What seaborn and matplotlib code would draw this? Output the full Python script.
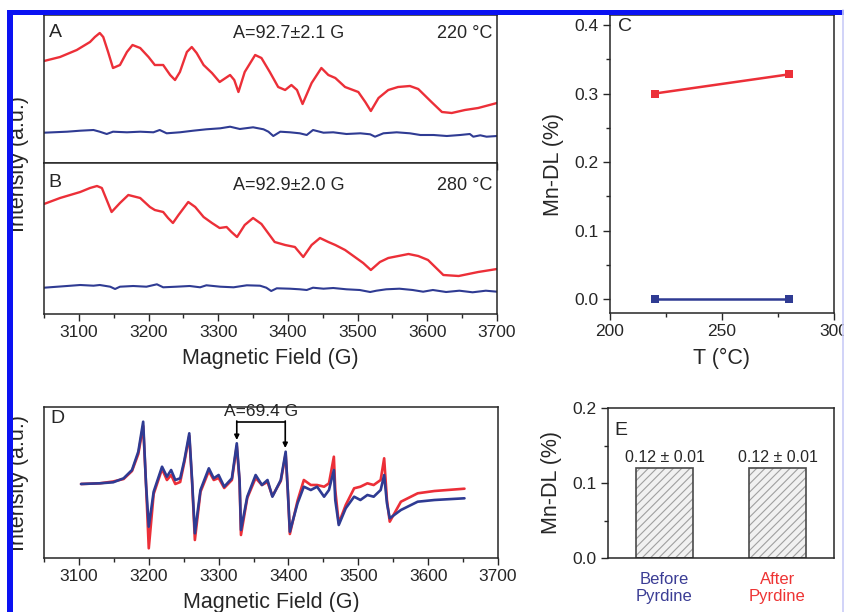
import matplotlib
matplotlib.use("Agg")
import matplotlib.pyplot as plt
import numpy as np
import pandas as pd
import seaborn as sns
from matplotlib.lines import Line2D
from matplotlib.patches import Rectangle
from matplotlib.ticker import MultipleLocator, NullLocator

sns.set_theme(style="ticks")
plt.rcParams["font.family"] = ["Liberation Sans", "DejaVu Sans"]
INK = "#262626"
RED = "#ec2f38"
BLUE = "#2f3b93"
plt.rcParams.update({
    "text.color": INK,
    "axes.labelcolor": INK,
    "axes.edgecolor": INK,
    "xtick.color": INK,
    "ytick.color": INK,
    "hatch.linewidth": 0.8,
})

# ---------------- Panel A: EPR at 220 °C ----------------
a_red_field = [3050, 3073, 3097, 3116, 3123, 3130, 3135, 3142, 3149, 3159,
               3169, 3177, 3188, 3200, 3209, 3221, 3231, 3238, 3245, 3255,
               3262, 3269, 3279, 3291, 3302, 3317, 3323, 3329, 3338, 3353,
               3362, 3374, 3386, 3396, 3405, 3413, 3421, 3434, 3448, 3458,
               3468, 3482, 3501, 3511, 3519, 3530, 3544, 3558, 3575, 3587,
               3606, 3621, 3635, 3654, 3673, 3700]
a_red_int = [102, 106, 113, 121, 126, 130, 126, 111, 95, 98,
             111, 118, 115, 106, 98, 98, 88, 83, 91, 111,
             116, 110, 98, 90, 81, 88, 83, 71, 91, 108,
             105, 91, 76, 73, 78, 73, 59, 80, 95, 88,
             85, 76, 71, 61, 52, 65, 73, 76, 77, 74,
             61, 51, 50, 53, 55, 60]
a_blue_field = [3050, 3083, 3102, 3121, 3130, 3140, 3149, 3169, 3188, 3207,
                3216, 3226, 3245, 3264, 3283, 3303, 3317, 3331, 3350, 3365,
                3372, 3379, 3389, 3403, 3417, 3427, 3436, 3451, 3465, 3484,
                3504, 3518, 3525, 3537, 3556, 3575, 3590, 3609, 3628, 3647,
                3661, 3666, 3676, 3685, 3700]
a_blue_int = [30.3, 31.3, 32.3, 33, 31.3, 29, 31.3, 30.7, 31.3, 30.7,
              33, 29.7, 30.7, 32.3, 33.7, 34.7, 36.3, 34, 35.7, 33.7,
              31.3, 27, 31.3, 30.7, 29.7, 28, 33, 30.3, 30.7, 29,
              29.7, 28.7, 26.3, 29.7, 30.7, 29.7, 28, 28, 27, 28,
              29, 26.3, 27.7, 26.3, 27]

# ---------------- Panel B: EPR at 280 °C ----------------
b_red_field = [3050, 3073, 3102, 3116, 3126, 3133, 3140, 3147, 3159, 3171,
               3188, 3202, 3209, 3221, 3228, 3235, 3243, 3257, 3267, 3279,
               3291, 3302, 3312, 3319, 3327, 3338, 3350, 3362, 3381, 3396,
               3410, 3422, 3434, 3446, 3458, 3468, 3482, 3496, 3508, 3519,
               3532, 3544, 3573, 3587, 3601, 3623, 3645, 3673, 3700]
b_red_int = [110, 116, 122, 126, 128, 126, 114, 102, 111, 119,
             116, 107, 104, 102, 96, 91, 99, 112, 107, 97,
             91, 86, 87, 82, 77, 89, 96, 90, 72, 69,
             67, 57, 69, 76, 72, 69, 64, 57, 51, 44,
             52, 56, 60, 58, 54, 39, 38, 42, 45]
b_blue_field = [3050, 3083, 3102, 3121, 3130, 3145, 3152, 3159, 3178, 3197,
                3212, 3221, 3240, 3259, 3274, 3283, 3303, 3322, 3341, 3360,
                3369, 3376, 3384, 3403, 3417, 3427, 3436, 3451, 3465, 3484,
                3503, 3518, 3527, 3541, 3560, 3579, 3594, 3608, 3627, 3646,
                3665, 3684, 3700]
b_blue_int = [26.3, 28, 29, 28.3, 29, 27.3, 25, 27.3, 28, 27.3,
              29.7, 26.7, 27.3, 28, 26.7, 28.7, 27.3, 26.7, 28.7, 28.3,
              26.3, 23, 25.7, 25.3, 24.7, 24, 26.3, 25.3, 26, 24.7,
              24, 22, 23.3, 24.7, 25.3, 24, 22.3, 24, 22, 23.3,
              21.7, 23.3, 22.3]

# ---------------- Panel C: Mn-DL vs temperature ----------------
c_temp = [220, 280]
c_red = [0.300, 0.328]
c_blue = [0.0, 0.0]

# ---------------- Panel D: before / after pyridine ----------------
d_field = [3103, 3130, 3149, 3164, 3176, 3185, 3192, 3196, 3200, 3207,
           3219, 3226, 3232, 3238, 3245, 3251, 3258, 3262, 3266, 3274,
           3286, 3293, 3300, 3308, 3319, 3326, 3330, 3332, 3341, 3353,
           3362, 3370, 3377, 3389, 3396, 3399, 3402, 3413, 3422, 3432,
           3441, 3451, 3458, 3465, 3467, 3472, 3482, 3494, 3503, 3513,
           3522, 3532, 3537, 3541, 3545, 3561, 3585, 3609, 3652]
d_blue = [74, 74.7, 75.7, 79.7, 88, 106.3, 136.3, 74.7, 31.3, 66.3,
          91.3, 81.3, 88, 78, 79.7, 98, 124.7, 78, 24.7, 68,
          89.7, 79.7, 83, 71.3, 79.7, 114.7, 78, 28, 61.3, 83,
          73, 78, 61.3, 78, 106.3, 68, 26.3, 54.7, 71.3, 68,
          71.3, 61.3, 68, 88, 58, 33, 49.7, 61.3, 58, 63,
          61.3, 68, 83, 54.7, 39.7, 48, 56.3, 58, 59.7]
d_red = [74, 74.7, 76.5, 79, 87, 104, 132, 74.7, 9.7, 64,
         89, 78, 83, 74, 76, 96, 122, 76, 18, 66,
         87, 78, 80, 70, 78, 112, 76, 23, 60, 80,
         73, 76, 62, 77, 104, 68, 24, 57.3, 78, 73,
         73, 71.3, 74.7, 101.3, 68, 34.7, 53, 69.7, 71.3, 74.7,
         73, 78, 99.7, 58, 36.3, 56.3, 64.7, 67, 69.3]
d_split_start = 3326.0
d_split = 69.4

# ---------------- Panel E: Mn-DL bars ----------------
e_labels = ["Before\nPyrdine", "After\nPyrdine"]
e_values = [0.12, 0.12]
e_errors = [0.01, 0.01]
e_label_colors = ["#3b3d95", "#ee3434"]

W, H = 845, 612
fig = plt.figure(figsize=(W / 100, H / 100), dpi=100)
fig.patch.set_facecolor("white")


def px_axes(x0, y0, x1, y1):
    return fig.add_axes([x0 / W, 1 - y1 / H, (x1 - x0) / W, (y1 - y0) / H])


def style_box(ax):
    for s in ax.spines.values():
        s.set_visible(True)
        s.set_color(INK)
        s.set_linewidth(1.1)
    ax.set_facecolor("white")
    ax.tick_params(which="major", length=5, width=1.0, labelsize=12.5, pad=3)
    ax.tick_params(which="minor", length=3, width=1.0)


def spectrum_axes(ax, ymax, show_labels):
    style_box(ax)
    ax.set_xlim(3050, 3700)
    ax.set_ylim(0, ymax)
    ax.xaxis.set_major_locator(MultipleLocator(100))
    ax.xaxis.set_minor_locator(MultipleLocator(50))
    ax.yaxis.set_major_locator(NullLocator())
    ax.yaxis.set_minor_locator(NullLocator())
    ax.tick_params(axis="x", which="both", direction="out",
                   labelbottom=show_labels)
    ax.set_ylabel("")
    ax.set_xlabel("")


# Panel A
axA = px_axes(44, 15, 497, 163)
sns.lineplot(x=a_red_field, y=a_red_int, ax=axA, color=RED, lw=1.7, estimator=None)
sns.lineplot(x=a_blue_field, y=a_blue_int, ax=axA, color=BLUE, lw=1.5, estimator=None)
spectrum_axes(axA, 148, False)
axA.text(0.01, 0.885, "A", transform=axA.transAxes, fontsize=14, va="center")
axA.text(0.54, 0.878, "A=92.7\u00b12.1 G", transform=axA.transAxes,
         fontsize=13, ha="center", va="center")
axA.text(0.989, 0.878, "220 \u00b0C", transform=axA.transAxes,
         fontsize=13, ha="right", va="center")

# Panel B
axB = px_axes(44, 163, 497, 314)
sns.lineplot(x=b_red_field, y=b_red_int, ax=axB, color=RED, lw=1.7, estimator=None)
sns.lineplot(x=b_blue_field, y=b_blue_int, ax=axB, color=BLUE, lw=1.5, estimator=None)
spectrum_axes(axB, 151, True)
axB.set_xlabel("Magnetic Field (G)", fontsize=15.5, labelpad=6)
axB.text(0.01, 0.874, "B", transform=axB.transAxes, fontsize=14, va="center")
axB.text(0.54, 0.854, "A=92.9\u00b12.0 G", transform=axB.transAxes,
         fontsize=13, ha="center", va="center")
axB.text(0.989, 0.854, "280 \u00b0C", transform=axB.transAxes,
         fontsize=13, ha="right", va="center")

fig.text(19 / W, 1 - 164 / H, "Intensity (a.u.)", rotation=90,
         ha="center", va="center", fontsize=15.5, color=INK)

# Panel C
axC = px_axes(610, 15, 834, 313)
dfC = pd.DataFrame({
    "T": c_temp + c_temp,
    "MnDL": c_red + c_blue,
    "series": ["red"] * len(c_temp) + ["blue"] * len(c_temp),
})
sns.lineplot(data=dfC, x="T", y="MnDL", hue="series",
             palette={"red": RED, "blue": BLUE}, marker="s", markersize=6,
             markeredgewidth=0, lw=1.8, legend=False, ax=axC, estimator=None)
style_box(axC)
axC.set_xlim(200, 300)
axC.set_ylim(-0.0204, 0.4146)
axC.xaxis.set_major_locator(MultipleLocator(50))
axC.xaxis.set_minor_locator(MultipleLocator(25))
axC.yaxis.set_major_locator(MultipleLocator(0.1))
axC.yaxis.set_minor_locator(MultipleLocator(0.05))
axC.tick_params(which="both", direction="out")
axC.set_xlabel("T (\u00b0C)", fontsize=15.5, labelpad=6)
axC.set_ylabel("Mn-DL (%)", fontsize=15.5, labelpad=8)
axC.text(0.036, 0.96, "C", transform=axC.transAxes, fontsize=14, va="center")

# Panel D
axD = px_axes(44, 407, 498, 558)
sns.lineplot(x=d_field, y=d_red, ax=axD, color=RED, lw=1.9, estimator=None)
sns.lineplot(x=d_field, y=d_blue, ax=axD, color=BLUE, lw=1.9, estimator=None)
spectrum_axes(axD, 151, True)
axD.set_xlabel("Magnetic Field (G)", fontsize=15.5, labelpad=6)
axD.text(0.013, 0.927, "D", transform=axD.transAxes, fontsize=14, va="center")
d_split_end = d_split_start + d_split
axD.plot([d_split_start, d_split_end], [136.5, 136.5], color="black", lw=1.2)
axD.annotate("", xy=(d_split_start, 118), xytext=(d_split_start, 137),
             arrowprops=dict(arrowstyle="-|>", color="black", lw=1.2,
                             mutation_scale=7, shrinkA=0, shrinkB=0))
axD.annotate("", xy=(d_split_end, 110), xytext=(d_split_end, 137),
             arrowprops=dict(arrowstyle="-|>", color="black", lw=1.2,
                             mutation_scale=7, shrinkA=0, shrinkB=0))
axD.text((d_split_start + d_split_end) / 2, 139, f"A={d_split} G",
         fontsize=12.5, ha="center", va="bottom")
fig.text(19 / W, 1 - 483 / H, "Intensity (a.u.)", rotation=90,
         ha="center", va="center", fontsize=15.5, color=INK)

# Panel E
axE = px_axes(608, 408, 834, 558)
dfE = pd.DataFrame({"sample": e_labels, "value": e_values})
sns.barplot(data=dfE, x="sample", y="value", color="#f1f1f1", width=0.5,
            saturation=1, edgecolor="#a0a0a0", linewidth=0, hatch="////",
            ax=axE)
sns.barplot(data=dfE, x="sample", y="value", color="#4a4a4a", width=0.5,
            fill=False, linewidth=1.2, ax=axE)
axE.bar_label(axE.containers[0],
              labels=[f"{v:.2f} \u00b1 {e:.2f}" for v, e in zip(e_values, e_errors)],
              padding=2, fontsize=11.5, color=INK)
style_box(axE)
axE.set_xlim(-0.5, 1.5)
axE.set_ylim(0, 0.2)
axE.yaxis.set_major_locator(MultipleLocator(0.1))
axE.yaxis.set_minor_locator(MultipleLocator(0.05))
axE.tick_params(axis="y", which="both", direction="out")
axE.tick_params(axis="x", length=0, labelsize=12, pad=10)
for lab, col in zip(axE.get_xticklabels(), e_label_colors):
    lab.set_color(col)
    lab.set_linespacing(1.15)
axE.set_xlabel("")
axE.set_ylabel("Mn-DL (%)", fontsize=15.5, labelpad=8)
axE.text(0.03, 0.853, "E", transform=axE.transAxes, fontsize=14, va="center")

# Blue frame along the top and left edges
frame_blue = "#0a12f2"
fig.add_artist(Rectangle((8 / W, 1 - 15 / H), 1 - 8 / W, 5 / H,
                         transform=fig.transFigure, color=frame_blue,
                         lw=0, zorder=20))
fig.add_artist(Rectangle((7 / W, 0), 6 / W, 1 - 10 / H,
                         transform=fig.transFigure, color=frame_blue,
                         lw=0, zorder=20))
fig.add_artist(Line2D([843 / W, 843 / W], [0, 1 - 10 / H],
                      transform=fig.transFigure, color="#c9ccf7",
                      lw=1.2, zorder=20))

fig.savefig("out.png", dpi=100, facecolor="white")
